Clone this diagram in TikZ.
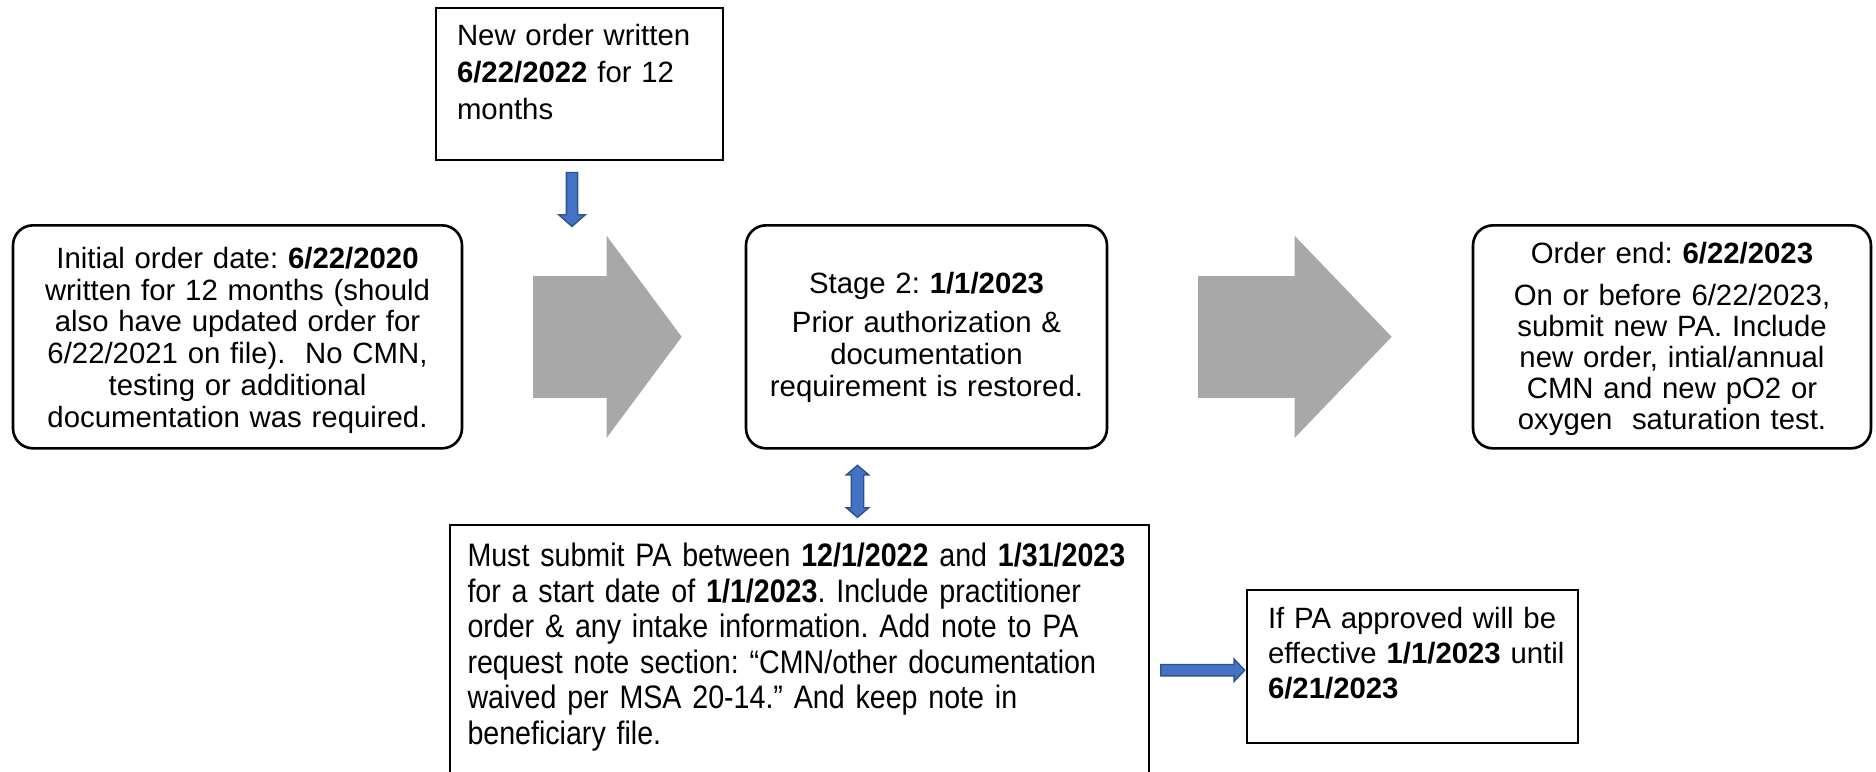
\documentclass[tikz,border=0pt]{standalone}
\usepackage{fontspec}
\setmainfont{Liberation Sans}
\newfontfamily\narrowfont[FakeStretch=0.88]{Liberation Sans}
\usetikzlibrary{shapes.arrows,calc,arrows.meta}
\frenchspacing

\definecolor{flowgrey}{HTML}{A8A8A8}
\definecolor{officeblue}{HTML}{4472C4}
\definecolor{officeedge}{HTML}{2F528F}

\begin{document}
\begin{tikzpicture}[x=0.2mm, y=-0.2mm,
    box/.style={draw=black, line width=1.1pt, anchor=north, inner ysep=0pt, inner xsep=4mm,
        execute at begin node={\lineskiplimit=-20pt}},
    roundbox/.style={box, line width=1.5pt, rounded corners=4mm, align=center},
    notebox/.style={box, align=left},
    flowarrow/.style={flowgrey, line width=24.4mm, -{Triangle[length=#1 0 0, width=40.4mm 0 0, line width=0pt]}},
    bluearrow/.style={draw=officeedge, fill=officeblue, line width=0.8pt, inner xsep=0pt, text height=0pt, text depth=0pt}]
    \useasboundingbox (0,0) rectangle (1876,771);
    \node (neworder) at (579.5,7) [notebox, inner xsep=4.2mm, text width=49mm, text height=7.6mm, text depth=22.8mm,
        font=\fontsize{16.7pt}{20.8pt}\selectfont]
        {New order written\\ \textbf{6/22/2022} for 12\\ months};
    \node (initial) at (237.5,224) [roundbox, text width=81.8mm, text height=8.6mm, text depth=36mm,
        font=\fontsize{16.7pt}{18.1pt}\selectfont]
        {Initial order date: \textbf{6/22/2020}\\ written for 12 months (should\\ also have updated order for\\
         6/22/2021 on file).\ \ No CMN,\\ testing or additional\\ documentation was required.};
    \node (stage) at (926.5,224) [roundbox, text width=64.2mm, text height=13.6mm, text depth=31mm,
        font=\fontsize{16.7pt}{18.2pt}\selectfont]
        {Stage 2: \textbf{1/1/2023}\\[4pt] Prior authorization \&\\ documentation\\ requirement is restored.};
    \node (orderend) at (1672,224) [roundbox, text width=71.6mm, text height=7.6mm, text depth=37mm,
        font=\fontsize{16.7pt}{17.6pt}\selectfont]
        {Order end: \textbf{6/22/2023}\\[6.3pt] On or before 6/22/2023,\\ submit new PA. Include\\
         new order, intial/annual\\ CMN and new pO2 or\\ oxygen\ \ saturation test.};
    \node (pabox) at (799.5,524) [notebox, inner xsep=3.5mm, text width=132.8mm, text height=8.4mm, text depth=44.8mm,
        font=\narrowfont\fontsize{18.5pt}{20.15pt}\selectfont]
        {Must submit PA between \textbf{12/1/2022} and \textbf{1/31/2023}\\
         for a start date of \textbf{1/1/2023}. Include practitioner\\
         order \& any intake information. Add note to PA\\
         request note section: “CMN/other documentation\\
         waived per MSA 20-14.” And keep note in\\ beneficiary file.};
    \node (approved) at (1412.5,589) [notebox, inner xsep=4.2mm, text width=57.8mm, text height=7.8mm, text depth=22.8mm,
        font=\fontsize{16.7pt}{19.75pt}\selectfont]
        {If PA approved will be\\ \mbox{effective \textbf{1/1/2023} until}\\ \textbf{6/21/2023}};
    % big grey arrows between the stages
    \draw[flowarrow=15mm, shorten <=14mm, shorten >=12.6mm] (initial.east) -- (stage.west);
    \draw[flowarrow=19.4mm, shorten <=18mm, shorten >=16mm] (stage.east) -- (orderend.west);
    % small blue arrows
    \node (pushdown) at ($(neworder.south)+(-7.5,36)$) [bluearrow, single arrow, rotate=-90, minimum height=10.8mm,
        inner ysep=1mm, single arrow head extend=1.5mm, single arrow tip angle=97] {};
    \node (linkup) at ($(stage.south)!0.5!(pabox.north)+(-5.5,4.5)$) [bluearrow, double arrow, rotate=90, minimum height=10.4mm,
        inner ysep=1.1mm, double arrow head extend=1mm, double arrow tip angle=99] {};
    \node (pushright) at ($(pabox.east)!0.5!(approved.west)+(2,8)$) [bluearrow, single arrow, minimum height=16.8mm,
        inner ysep=1mm, single arrow head extend=1.1mm, single arrow tip angle=93] {};
\end{tikzpicture}
\end{document}
